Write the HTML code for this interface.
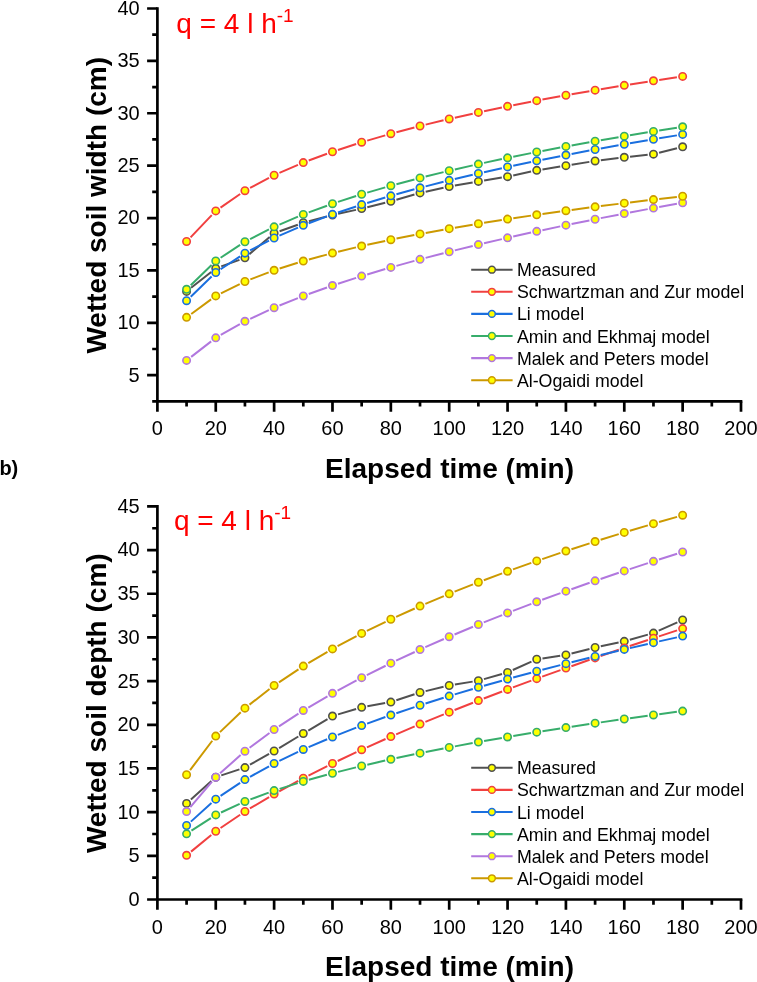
<!DOCTYPE html>
<html lang="en">
<head>
<meta charset="utf-8">
<title>Wetted soil width and depth versus elapsed time</title>
<style>
html,body{margin:0;padding:0;background:#fff;}
body{width:757px;height:982px;overflow:hidden;}
svg{display:block;font-family:'Liberation Sans', Arial, Helvetica, sans-serif;}
</style>
</head>
<body>
<svg width="757" height="982" viewBox="0 0 757 982">
<rect width="757" height="982" fill="#fff"/>
<g stroke="#000" stroke-width="2.7" fill="none">
<path d="M157.4 7.15 V411.7"/>
<path d="M157.4 401.4 H742.35"/>
<path d="M147.1 375.21 H157.4 M147.1 322.82 H157.4 M147.1 270.43 H157.4 M147.1 218.05 H157.4 M147.1 165.66 H157.4 M147.1 113.27 H157.4 M147.1 60.89 H157.4 M147.1 8.5 H157.4 M152.2 401.4 H157.4 M152.2 349.01 H157.4 M152.2 296.63 H157.4 M152.2 244.24 H157.4 M152.2 191.85 H157.4 M152.2 139.47 H157.4 M152.2 87.08 H157.4 M152.2 34.69 H157.4 M215.76 401.4 V411.7 M274.12 401.4 V411.7 M332.48 401.4 V411.7 M390.84 401.4 V411.7 M449.2 401.4 V411.7 M507.56 401.4 V411.7 M565.92 401.4 V411.7 M624.28 401.4 V411.7 M682.64 401.4 V411.7 M741 401.4 V411.7 M186.58 401.4 V406.6 M244.94 401.4 V406.6 M303.3 401.4 V406.6 M361.66 401.4 V406.6 M420.02 401.4 V406.6 M478.38 401.4 V406.6 M536.74 401.4 V406.6 M595.1 401.4 V406.6 M653.46 401.4 V406.6 M711.82 401.4 V406.6"/>
</g>
<g font-size="20" fill="#000">
<g text-anchor="end">
<text transform="translate(139.7 381.61) scale(1 1.04)">5</text>
<text transform="translate(139.7 329.22) scale(1 1.04)">10</text>
<text transform="translate(139.7 276.83) scale(1 1.04)">15</text>
<text transform="translate(139.7 224.45) scale(1 1.04)">20</text>
<text transform="translate(139.7 172.06) scale(1 1.04)">25</text>
<text transform="translate(139.7 119.67) scale(1 1.04)">30</text>
<text transform="translate(139.7 67.29) scale(1 1.04)">35</text>
<text transform="translate(139.7 14.9) scale(1 1.04)">40</text>
</g>
<g text-anchor="middle">
<text transform="translate(157.4 435.4) scale(1 1.04)">0</text>
<text transform="translate(215.76 435.4) scale(1 1.04)">20</text>
<text transform="translate(274.12 435.4) scale(1 1.04)">40</text>
<text transform="translate(332.48 435.4) scale(1 1.04)">60</text>
<text transform="translate(390.84 435.4) scale(1 1.04)">80</text>
<text transform="translate(449.2 435.4) scale(1 1.04)">100</text>
<text transform="translate(507.56 435.4) scale(1 1.04)">120</text>
<text transform="translate(565.92 435.4) scale(1 1.04)">140</text>
<text transform="translate(624.28 435.4) scale(1 1.04)">160</text>
<text transform="translate(682.64 435.4) scale(1 1.04)">180</text>
<text transform="translate(741 435.4) scale(1 1.04)">200</text>
</g>
</g>
<g font-size="28" font-weight="bold" text-anchor="middle" fill="#000">
<text x="449.5" y="477.7">Elapsed time (min)</text>
<text transform="translate(105.7 205.25) rotate(-90)">Wetted soil width (cm)</text>
</g>
<text x="176.3" y="33.1" font-size="28" fill="#FF0000">q = 4 l h<tspan font-size="19" dy="-11.2">-1</tspan></text>
<g stroke="#515151">
<path d="M191.13 287.79L211.21 271.93M221.22 266.38L239.48 259.82M249.37 254.12L269.69 236.98M279.58 231.28L297.84 224.72M308.91 221.29L326.87 216.58M338.14 213.85L356 209.88M367.29 207.2L385.21 202.7M396.41 199.68L414.45 194.5M425.69 191.68L443.53 187.84M454.91 185.59L472.67 182.4M484.11 180.45L501.83 177.59M513.23 175.44L531.07 171.6M542.47 169.45L560.19 166.59M571.65 164.73L589.37 161.87M600.85 160.22L618.53 158M630.05 156.66L647.69 154.76M659.09 152.72L677.01 148.21" stroke-width="2" fill="none"/>
<g fill="#FFFF00" stroke-width="1.6">
<circle cx="186.58" cy="291.39" r="3.7"/>
<circle cx="215.76" cy="268.34" r="3.7"/>
<circle cx="244.94" cy="257.86" r="3.7"/>
<circle cx="274.12" cy="233.24" r="3.7"/>
<circle cx="303.3" cy="222.76" r="3.7"/>
<circle cx="332.48" cy="215.11" r="3.7"/>
<circle cx="361.66" cy="208.62" r="3.7"/>
<circle cx="390.84" cy="201.28" r="3.7"/>
<circle cx="420.02" cy="192.9" r="3.7"/>
<circle cx="449.2" cy="186.61" r="3.7"/>
<circle cx="478.38" cy="181.38" r="3.7"/>
<circle cx="507.56" cy="176.66" r="3.7"/>
<circle cx="536.74" cy="170.37" r="3.7"/>
<circle cx="565.92" cy="165.66" r="3.7"/>
<circle cx="595.1" cy="160.95" r="3.7"/>
<circle cx="624.28" cy="157.28" r="3.7"/>
<circle cx="653.46" cy="154.13" r="3.7"/>
<circle cx="682.64" cy="146.8" r="3.7"/>
</g></g>
<g stroke="#F14040">
<path d="M190.58 237.32L211.76 215.1M220.53 207.6L240.17 194M250.07 187.99L268.99 177.96M279.44 172.93L297.98 164.87M308.74 160.54L327.04 153.74M337.99 149.93L356.15 144.02M367.23 140.6L385.27 135.34M396.45 132.24L414.41 127.5M425.66 124.65L443.56 120.32M454.86 117.68L472.72 113.69M484.06 111.23L501.88 107.52M513.25 105.22L531.05 101.74M542.44 99.58L560.22 96.31M571.63 94.27L589.39 91.18M600.82 89.24L618.56 86.31M630.01 84.47L647.73 81.68M659.2 79.92L676.9 77.25" stroke-width="2" fill="none"/>
<g fill="#FFFF00" stroke-width="1.6">
<circle cx="186.58" cy="241.52" r="3.7"/>
<circle cx="215.76" cy="210.9" r="3.7"/>
<circle cx="244.94" cy="190.7" r="3.7"/>
<circle cx="274.12" cy="175.24" r="3.7"/>
<circle cx="303.3" cy="162.56" r="3.7"/>
<circle cx="332.48" cy="151.73" r="3.7"/>
<circle cx="361.66" cy="142.22" r="3.7"/>
<circle cx="390.84" cy="133.72" r="3.7"/>
<circle cx="420.02" cy="126.02" r="3.7"/>
<circle cx="449.2" cy="118.95" r="3.7"/>
<circle cx="478.38" cy="112.42" r="3.7"/>
<circle cx="507.56" cy="106.33" r="3.7"/>
<circle cx="536.74" cy="100.63" r="3.7"/>
<circle cx="565.92" cy="95.26" r="3.7"/>
<circle cx="595.1" cy="90.19" r="3.7"/>
<circle cx="624.28" cy="85.37" r="3.7"/>
<circle cx="653.46" cy="80.78" r="3.7"/>
<circle cx="682.64" cy="76.39" r="3.7"/>
</g></g>
<g stroke="#1A6FDF">
<path d="M190.75 296.68L211.59 276.52M220.59 269.29L240.11 256.36M250.09 250.48L268.97 240.67M279.44 235.69L297.98 227.64M308.73 223.29L327.05 216.4M337.98 212.52L356.16 206.46M367.21 202.95L385.29 197.5M396.43 194.28L414.43 189.32M425.64 186.35L443.58 181.78M454.84 179L472.74 174.76M484.04 172.16L501.9 168.19M513.24 165.74L531.06 162.01M542.43 159.69L560.23 156.15M571.62 153.95L589.4 150.6M600.81 148.5L618.57 145.3M630 143.29L647.74 140.24M659.18 138.31L676.92 135.38" stroke-width="2" fill="none"/>
<g fill="#FFFF00" stroke-width="1.6">
<circle cx="186.58" cy="300.71" r="3.7"/>
<circle cx="215.76" cy="272.49" r="3.7"/>
<circle cx="244.94" cy="253.16" r="3.7"/>
<circle cx="274.12" cy="237.99" r="3.7"/>
<circle cx="303.3" cy="225.33" r="3.7"/>
<circle cx="332.48" cy="214.36" r="3.7"/>
<circle cx="361.66" cy="204.62" r="3.7"/>
<circle cx="390.84" cy="195.82" r="3.7"/>
<circle cx="420.02" cy="187.78" r="3.7"/>
<circle cx="449.2" cy="180.34" r="3.7"/>
<circle cx="478.38" cy="173.42" r="3.7"/>
<circle cx="507.56" cy="166.93" r="3.7"/>
<circle cx="536.74" cy="160.82" r="3.7"/>
<circle cx="565.92" cy="155.03" r="3.7"/>
<circle cx="595.1" cy="149.52" r="3.7"/>
<circle cx="624.28" cy="144.27" r="3.7"/>
<circle cx="653.46" cy="139.25" r="3.7"/>
<circle cx="682.64" cy="134.44" r="3.7"/>
</g></g>
<g stroke="#37AD6B">
<path d="M190.74 285.25L211.6 265M220.61 257.78L240.09 244.96M250.1 239.13L268.96 229.48M279.46 224.56L297.96 216.69M308.74 212.42L327.04 205.71M338 201.92L356.14 196.03M367.23 192.61L385.27 187.34M396.44 184.22L414.42 179.42M425.65 176.54L443.57 172.14M454.85 169.46L472.73 165.38M484.05 162.88L501.89 159.07M513.25 156.71L531.05 153.13M542.44 150.9L560.22 147.52M571.63 145.41L589.39 142.21M600.82 140.2L618.56 137.15M630 135.23L647.74 132.32M659.19 130.48L676.91 127.69" stroke-width="2" fill="none"/>
<g fill="#FFFF00" stroke-width="1.6">
<circle cx="186.58" cy="289.29" r="3.7"/>
<circle cx="215.76" cy="260.96" r="3.7"/>
<circle cx="244.94" cy="241.77" r="3.7"/>
<circle cx="274.12" cy="226.83" r="3.7"/>
<circle cx="303.3" cy="214.42" r="3.7"/>
<circle cx="332.48" cy="203.71" r="3.7"/>
<circle cx="361.66" cy="194.24" r="3.7"/>
<circle cx="390.84" cy="185.71" r="3.7"/>
<circle cx="420.02" cy="177.93" r="3.7"/>
<circle cx="449.2" cy="170.76" r="3.7"/>
<circle cx="478.38" cy="164.09" r="3.7"/>
<circle cx="507.56" cy="157.85" r="3.7"/>
<circle cx="536.74" cy="151.99" r="3.7"/>
<circle cx="565.92" cy="146.44" r="3.7"/>
<circle cx="595.1" cy="141.18" r="3.7"/>
<circle cx="624.28" cy="136.16" r="3.7"/>
<circle cx="653.46" cy="131.38" r="3.7"/>
<circle cx="682.64" cy="126.79" r="3.7"/>
</g></g>
<g stroke="#B177DE">
<path d="M191.17 356.88L211.17 341.41M220.8 334.99L239.9 324.15M250.2 318.84L268.86 310.15M279.5 305.54L297.92 298.14M308.76 294.02L327.02 287.5M338 283.76L356.14 277.88M367.22 274.44L385.28 269.06M396.43 265.85L414.43 260.86M425.63 257.86L443.59 253.19M454.83 250.35L472.75 245.97M484.03 243.27L501.91 239.12M513.22 236.55L531.08 232.6M542.41 230.15L560.25 226.37M571.6 224.02L589.42 220.4M600.79 218.14L618.59 214.66M629.98 212.48L647.76 209.13M659.17 207.02L676.93 203.79" stroke-width="2" fill="none"/>
<g fill="#FFFF00" stroke-width="1.6">
<circle cx="186.58" cy="360.43" r="3.7"/>
<circle cx="215.76" cy="337.86" r="3.7"/>
<circle cx="244.94" cy="321.28" r="3.7"/>
<circle cx="274.12" cy="307.7" r="3.7"/>
<circle cx="303.3" cy="295.98" r="3.7"/>
<circle cx="332.48" cy="285.55" r="3.7"/>
<circle cx="361.66" cy="276.1" r="3.7"/>
<circle cx="390.84" cy="267.4" r="3.7"/>
<circle cx="420.02" cy="259.31" r="3.7"/>
<circle cx="449.2" cy="251.74" r="3.7"/>
<circle cx="478.38" cy="244.59" r="3.7"/>
<circle cx="507.56" cy="237.81" r="3.7"/>
<circle cx="536.74" cy="231.35" r="3.7"/>
<circle cx="565.92" cy="225.17" r="3.7"/>
<circle cx="595.1" cy="219.25" r="3.7"/>
<circle cx="624.28" cy="213.55" r="3.7"/>
<circle cx="653.46" cy="208.06" r="3.7"/>
<circle cx="682.64" cy="202.75" r="3.7"/>
</g></g>
<g stroke="#CC9900">
<path d="M191.25 313.94L211.09 299.36M220.96 293.35L239.74 284.06M250.36 279.42L268.7 272.38M279.65 268.55L297.77 262.79M308.89 259.51L326.89 254.59M338.12 251.7L356.02 247.39M367.33 244.8L385.17 240.93M396.53 238.58L414.33 235.06M425.73 232.9L443.49 229.67M454.92 227.67L472.66 224.67M484.11 222.8L501.83 220.01M513.3 218.25L531 215.63M542.48 213.98L560.18 211.5M571.67 209.93L589.35 207.59M600.85 206.1L618.53 203.87M630.04 202.44L647.7 200.31M659.22 198.96L676.88 196.92" stroke-width="2" fill="none"/>
<g fill="#FFFF00" stroke-width="1.6">
<circle cx="186.58" cy="317.37" r="3.7"/>
<circle cx="215.76" cy="295.92" r="3.7"/>
<circle cx="244.94" cy="281.49" r="3.7"/>
<circle cx="274.12" cy="270.3" r="3.7"/>
<circle cx="303.3" cy="261.04" r="3.7"/>
<circle cx="332.48" cy="253.06" r="3.7"/>
<circle cx="361.66" cy="246.03" r="3.7"/>
<circle cx="390.84" cy="239.7" r="3.7"/>
<circle cx="420.02" cy="233.94" r="3.7"/>
<circle cx="449.2" cy="228.63" r="3.7"/>
<circle cx="478.38" cy="223.71" r="3.7"/>
<circle cx="507.56" cy="219.11" r="3.7"/>
<circle cx="536.74" cy="214.78" r="3.7"/>
<circle cx="565.92" cy="210.7" r="3.7"/>
<circle cx="595.1" cy="206.82" r="3.7"/>
<circle cx="624.28" cy="203.14" r="3.7"/>
<circle cx="653.46" cy="199.62" r="3.7"/>
<circle cx="682.64" cy="196.25" r="3.7"/>
</g></g>
<g font-size="17.8" fill="#000">
<path d="M471.2 269.7H512.6" stroke="#515151" stroke-width="2.1" fill="none"/>
<circle cx="491.9" cy="269.7" r="3.4" fill="#FFFF00" stroke="#515151" stroke-width="1.5"/>
<text x="516.9" y="276.2">Measured</text>
<path d="M471.2 291.8H512.6" stroke="#F14040" stroke-width="2.1" fill="none"/>
<circle cx="491.9" cy="291.8" r="3.4" fill="#FFFF00" stroke="#F14040" stroke-width="1.5"/>
<text x="516.9" y="298.3">Schwartzman and Zur model</text>
<path d="M471.2 313.9H512.6" stroke="#1A6FDF" stroke-width="2.1" fill="none"/>
<circle cx="491.9" cy="313.9" r="3.4" fill="#FFFF00" stroke="#1A6FDF" stroke-width="1.5"/>
<text x="516.9" y="320.4">Li model</text>
<path d="M471.2 336H512.6" stroke="#37AD6B" stroke-width="2.1" fill="none"/>
<circle cx="491.9" cy="336" r="3.4" fill="#FFFF00" stroke="#37AD6B" stroke-width="1.5"/>
<text x="516.9" y="342.5">Amin and Ekhmaj model</text>
<path d="M471.2 358.1H512.6" stroke="#B177DE" stroke-width="2.1" fill="none"/>
<circle cx="491.9" cy="358.1" r="3.4" fill="#FFFF00" stroke="#B177DE" stroke-width="1.5"/>
<text x="516.9" y="364.6">Malek and Peters model</text>
<path d="M471.2 380.2H512.6" stroke="#CC9900" stroke-width="2.1" fill="none"/>
<circle cx="491.9" cy="380.2" r="3.4" fill="#FFFF00" stroke="#CC9900" stroke-width="1.5"/>
<text x="516.9" y="386.7">Al-Ogaidi model</text>
</g>
<text x="-0.6" y="474.8" font-size="20" font-weight="bold" fill="#000">b)</text>
<g stroke="#000" stroke-width="2.7" fill="none">
<path d="M157.4 505.05 V909.8"/>
<path d="M157.4 899.5 H742.35"/>
<path d="M147.1 899.5 H157.4 M147.1 855.82 H157.4 M147.1 812.14 H157.4 M147.1 768.47 H157.4 M147.1 724.79 H157.4 M147.1 681.11 H157.4 M147.1 637.43 H157.4 M147.1 593.76 H157.4 M147.1 550.08 H157.4 M147.1 506.4 H157.4 M152.2 877.66 H157.4 M152.2 833.98 H157.4 M152.2 790.31 H157.4 M152.2 746.63 H157.4 M152.2 702.95 H157.4 M152.2 659.27 H157.4 M152.2 615.59 H157.4 M152.2 571.92 H157.4 M152.2 528.24 H157.4 M215.76 899.5 V909.8 M274.12 899.5 V909.8 M332.48 899.5 V909.8 M390.84 899.5 V909.8 M449.2 899.5 V909.8 M507.56 899.5 V909.8 M565.92 899.5 V909.8 M624.28 899.5 V909.8 M682.64 899.5 V909.8 M741 899.5 V909.8 M186.58 899.5 V904.7 M244.94 899.5 V904.7 M303.3 899.5 V904.7 M361.66 899.5 V904.7 M420.02 899.5 V904.7 M478.38 899.5 V904.7 M536.74 899.5 V904.7 M595.1 899.5 V904.7 M653.46 899.5 V904.7 M711.82 899.5 V904.7"/>
</g>
<g font-size="20" fill="#000">
<g text-anchor="end">
<text transform="translate(139.7 905.9) scale(1 1.04)">0</text>
<text transform="translate(139.7 862.22) scale(1 1.04)">5</text>
<text transform="translate(139.7 818.54) scale(1 1.04)">10</text>
<text transform="translate(139.7 774.87) scale(1 1.04)">15</text>
<text transform="translate(139.7 731.19) scale(1 1.04)">20</text>
<text transform="translate(139.7 687.51) scale(1 1.04)">25</text>
<text transform="translate(139.7 643.83) scale(1 1.04)">30</text>
<text transform="translate(139.7 600.16) scale(1 1.04)">35</text>
<text transform="translate(139.7 556.48) scale(1 1.04)">40</text>
<text transform="translate(139.7 512.8) scale(1 1.04)">45</text>
</g>
<g text-anchor="middle">
<text transform="translate(157.4 933.5) scale(1 1.04)">0</text>
<text transform="translate(215.76 933.5) scale(1 1.04)">20</text>
<text transform="translate(274.12 933.5) scale(1 1.04)">40</text>
<text transform="translate(332.48 933.5) scale(1 1.04)">60</text>
<text transform="translate(390.84 933.5) scale(1 1.04)">80</text>
<text transform="translate(449.2 933.5) scale(1 1.04)">100</text>
<text transform="translate(507.56 933.5) scale(1 1.04)">120</text>
<text transform="translate(565.92 933.5) scale(1 1.04)">140</text>
<text transform="translate(624.28 933.5) scale(1 1.04)">160</text>
<text transform="translate(682.64 933.5) scale(1 1.04)">180</text>
<text transform="translate(741 933.5) scale(1 1.04)">200</text>
</g>
</g>
<g font-size="28" font-weight="bold" text-anchor="middle" fill="#000">
<text x="449.5" y="975.8">Elapsed time (min)</text>
<text transform="translate(105.7 703.25) rotate(-90)">Wetted soil depth (cm)</text>
</g>
<text x="173.9" y="529.8" font-size="28" fill="#FF0000">q = 4 l h<tspan font-size="19" dy="-11.2">-1</tspan></text>
<g stroke="#515151">
<path d="M190.9 799.53L211.44 781.08M221.27 775.39L239.43 769.41M249.98 764.73L269.08 753.86M279.1 748.02L298.32 736.5M308.28 730.54L327.5 719.03M338.04 714.39L356.1 708.98M367.37 706.29L385.13 703.1M396.35 700.26L414.51 694.28M425.66 691.12L443.56 686.83M454.92 684.54L472.66 681.62M483.96 679.09L501.98 673.96M512.85 670L531.45 661.65M542.48 658.41L560.18 655.76M571.54 653.47L589.48 648.91M600.78 646.29L618.6 642.55M629.86 639.78L647.88 634.65M658.75 630.69L677.35 622.34" stroke-width="2" fill="none"/>
<g fill="#FFFF00" stroke-width="1.6">
<circle cx="186.58" cy="803.41" r="3.7"/>
<circle cx="215.76" cy="777.2" r="3.7"/>
<circle cx="244.94" cy="767.59" r="3.7"/>
<circle cx="274.12" cy="751" r="3.7"/>
<circle cx="303.3" cy="733.52" r="3.7"/>
<circle cx="332.48" cy="716.05" r="3.7"/>
<circle cx="361.66" cy="707.32" r="3.7"/>
<circle cx="390.84" cy="702.08" r="3.7"/>
<circle cx="420.02" cy="692.47" r="3.7"/>
<circle cx="449.2" cy="685.48" r="3.7"/>
<circle cx="478.38" cy="680.67" r="3.7"/>
<circle cx="507.56" cy="672.38" r="3.7"/>
<circle cx="536.74" cy="659.27" r="3.7"/>
<circle cx="565.92" cy="654.9" r="3.7"/>
<circle cx="595.1" cy="647.48" r="3.7"/>
<circle cx="624.28" cy="641.36" r="3.7"/>
<circle cx="653.46" cy="633.07" r="3.7"/>
<circle cx="682.64" cy="619.96" r="3.7"/>
</g></g>
<g stroke="#F14040">
<path d="M191.05 851.61L211.29 834.92M220.56 827.97L240.14 814.71M249.92 808.48L269.14 797.02M279.22 791.28L298.2 780.97M308.48 775.59L327.3 766.11M337.72 761.02L356.42 752.18M366.95 747.32L385.55 738.98M396.17 734.33L414.69 726.4M425.39 721.92L443.83 714.34M454.59 710.01L472.99 702.73M483.8 698.53L502.14 691.51M513 687.43L531.3 680.64M542.2 676.66L560.46 670.08M571.39 666.2L589.63 659.8M600.59 656.01L618.79 649.78M629.78 646.06L647.96 639.99M658.97 636.35L677.13 630.41" stroke-width="2" fill="none"/>
<g fill="#FFFF00" stroke-width="1.6">
<circle cx="186.58" cy="855.3" r="3.7"/>
<circle cx="215.76" cy="831.23" r="3.7"/>
<circle cx="244.94" cy="811.45" r="3.7"/>
<circle cx="274.12" cy="794.04" r="3.7"/>
<circle cx="303.3" cy="778.2" r="3.7"/>
<circle cx="332.48" cy="763.5" r="3.7"/>
<circle cx="361.66" cy="749.7" r="3.7"/>
<circle cx="390.84" cy="736.61" r="3.7"/>
<circle cx="420.02" cy="724.12" r="3.7"/>
<circle cx="449.2" cy="712.14" r="3.7"/>
<circle cx="478.38" cy="700.6" r="3.7"/>
<circle cx="507.56" cy="689.44" r="3.7"/>
<circle cx="536.74" cy="678.63" r="3.7"/>
<circle cx="565.92" cy="668.12" r="3.7"/>
<circle cx="595.1" cy="657.88" r="3.7"/>
<circle cx="624.28" cy="647.9" r="3.7"/>
<circle cx="653.46" cy="638.15" r="3.7"/>
<circle cx="682.64" cy="628.61" r="3.7"/>
</g></g>
<g stroke="#1A6FDF">
<path d="M190.89 821.62L211.45 803.06M220.58 795.95L240.12 782.85M250.01 776.81L269.05 766.28M279.35 760.96L298.07 751.97M308.63 747.17L327.15 739.23M337.88 734.84L356.26 727.67M367.12 723.59L385.38 717.02M396.34 713.21L414.52 707.1M425.55 703.51L443.67 697.8M454.76 694.4L472.82 689.01M483.96 685.78L501.98 680.67M513.16 677.58L531.14 672.72M542.35 669.75L560.31 665.1M571.55 662.25L589.47 657.79M600.74 655.04L618.64 650.75M629.93 648.1L647.81 643.96M659.12 641.39L676.98 637.39" stroke-width="2" fill="none"/>
<g fill="#FFFF00" stroke-width="1.6">
<circle cx="186.58" cy="825.51" r="3.7"/>
<circle cx="215.76" cy="799.18" r="3.7"/>
<circle cx="244.94" cy="779.62" r="3.7"/>
<circle cx="274.12" cy="763.47" r="3.7"/>
<circle cx="303.3" cy="749.46" r="3.7"/>
<circle cx="332.48" cy="736.95" r="3.7"/>
<circle cx="361.66" cy="725.56" r="3.7"/>
<circle cx="390.84" cy="715.05" r="3.7"/>
<circle cx="420.02" cy="705.26" r="3.7"/>
<circle cx="449.2" cy="696.06" r="3.7"/>
<circle cx="478.38" cy="687.36" r="3.7"/>
<circle cx="507.56" cy="679.09" r="3.7"/>
<circle cx="536.74" cy="671.21" r="3.7"/>
<circle cx="565.92" cy="663.65" r="3.7"/>
<circle cx="595.1" cy="656.39" r="3.7"/>
<circle cx="624.28" cy="649.4" r="3.7"/>
<circle cx="653.46" cy="642.65" r="3.7"/>
<circle cx="682.64" cy="636.12" r="3.7"/>
</g></g>
<g stroke="#37AD6B">
<path d="M191.45 830.66L210.89 818.07M221.03 812.49L239.67 803.88M250.38 799.43L268.68 792.63M279.65 788.86L297.77 783.13M308.89 779.82L326.89 774.81M338.11 771.85L356.03 767.37M367.31 764.67L385.19 760.59M396.52 758.1L414.34 754.35M425.71 752.03L443.51 748.54M454.9 746.37L472.68 743.09M484.09 741.05L501.85 737.96M513.28 736.02L531.02 733.1M542.47 731.25L560.19 728.47M571.66 726.71L589.36 724.05M600.84 722.37L618.54 719.82M630.03 718.2L647.71 715.75M659.21 714.19L676.89 711.84" stroke-width="2" fill="none"/>
<g fill="#FFFF00" stroke-width="1.6">
<circle cx="186.58" cy="833.81" r="3.7"/>
<circle cx="215.76" cy="814.92" r="3.7"/>
<circle cx="244.94" cy="801.45" r="3.7"/>
<circle cx="274.12" cy="790.61" r="3.7"/>
<circle cx="303.3" cy="781.38" r="3.7"/>
<circle cx="332.48" cy="773.26" r="3.7"/>
<circle cx="361.66" cy="765.96" r="3.7"/>
<circle cx="390.84" cy="759.3" r="3.7"/>
<circle cx="420.02" cy="753.15" r="3.7"/>
<circle cx="449.2" cy="747.42" r="3.7"/>
<circle cx="478.38" cy="742.04" r="3.7"/>
<circle cx="507.56" cy="736.97" r="3.7"/>
<circle cx="536.74" cy="732.15" r="3.7"/>
<circle cx="565.92" cy="727.57" r="3.7"/>
<circle cx="595.1" cy="723.19" r="3.7"/>
<circle cx="624.28" cy="718.99" r="3.7"/>
<circle cx="653.46" cy="714.96" r="3.7"/>
<circle cx="682.64" cy="711.07" r="3.7"/>
</g></g>
<g stroke="#B177DE">
<path d="M190.34 807.11L212 781.63M220.09 773.35L240.61 755.07M249.59 747.75L269.47 732.95M278.98 726.32L298.44 713.63M308.3 707.53L327.48 696.29M337.59 690.61L356.55 680.43M366.85 675.1L385.65 665.73M396.1 660.7L414.76 651.99M425.33 647.2L443.89 639.04M454.55 634.47L473.03 626.76M483.77 622.38L502.17 615.06M512.98 610.85L531.32 603.86M542.19 599.81L560.47 593.12M571.39 589.2L589.63 582.77M600.59 578.98L618.79 572.79M629.79 569.11L647.95 563.13M658.99 559.55L677.11 553.76" stroke-width="2" fill="none"/>
<g fill="#FFFF00" stroke-width="1.6">
<circle cx="186.58" cy="811.53" r="3.7"/>
<circle cx="215.76" cy="777.21" r="3.7"/>
<circle cx="244.94" cy="751.21" r="3.7"/>
<circle cx="274.12" cy="729.49" r="3.7"/>
<circle cx="303.3" cy="710.46" r="3.7"/>
<circle cx="332.48" cy="693.35" r="3.7"/>
<circle cx="361.66" cy="677.68" r="3.7"/>
<circle cx="390.84" cy="663.15" r="3.7"/>
<circle cx="420.02" cy="649.54" r="3.7"/>
<circle cx="449.2" cy="636.7" r="3.7"/>
<circle cx="478.38" cy="624.52" r="3.7"/>
<circle cx="507.56" cy="612.91" r="3.7"/>
<circle cx="536.74" cy="601.8" r="3.7"/>
<circle cx="565.92" cy="591.13" r="3.7"/>
<circle cx="595.1" cy="580.85" r="3.7"/>
<circle cx="624.28" cy="570.92" r="3.7"/>
<circle cx="653.46" cy="561.31" r="3.7"/>
<circle cx="682.64" cy="552" r="3.7"/>
</g></g>
<g stroke="#CC9900">
<path d="M190.08 770.13L212.26 740.75M219.95 732.11L240.75 712.2M249.52 704.63L269.54 689.08M278.95 682.31L298.47 669.31M308.3 663.16L327.48 651.88M337.6 646.21L356.54 636.16M366.88 630.9L385.62 621.78M396.13 616.86L414.73 608.48M425.37 603.85L443.85 596.06M454.59 591.68L472.99 584.39M483.81 580.22L502.13 573.36M513.02 569.38L531.28 562.89M542.23 559.08L560.43 552.9M571.44 549.24L589.58 543.34M600.64 539.82L618.74 534.17M629.83 530.77L647.91 525.35M659.03 522.06L677.07 516.84" stroke-width="2" fill="none"/>
<g fill="#FFFF00" stroke-width="1.6">
<circle cx="186.58" cy="774.76" r="3.7"/>
<circle cx="215.76" cy="736.12" r="3.7"/>
<circle cx="244.94" cy="708.19" r="3.7"/>
<circle cx="274.12" cy="685.52" r="3.7"/>
<circle cx="303.3" cy="666.1" r="3.7"/>
<circle cx="332.48" cy="648.93" r="3.7"/>
<circle cx="361.66" cy="633.44" r="3.7"/>
<circle cx="390.84" cy="619.24" r="3.7"/>
<circle cx="420.02" cy="606.1" r="3.7"/>
<circle cx="449.2" cy="593.81" r="3.7"/>
<circle cx="478.38" cy="582.26" r="3.7"/>
<circle cx="507.56" cy="571.33" r="3.7"/>
<circle cx="536.74" cy="560.94" r="3.7"/>
<circle cx="565.92" cy="551.04" r="3.7"/>
<circle cx="595.1" cy="541.55" r="3.7"/>
<circle cx="624.28" cy="532.44" r="3.7"/>
<circle cx="653.46" cy="523.68" r="3.7"/>
<circle cx="682.64" cy="515.22" r="3.7"/>
</g></g>
<g font-size="17.8" fill="#000">
<path d="M471.2 767.8H512.6" stroke="#515151" stroke-width="2.1" fill="none"/>
<circle cx="491.9" cy="767.8" r="3.4" fill="#FFFF00" stroke="#515151" stroke-width="1.5"/>
<text x="516.9" y="774.3">Measured</text>
<path d="M471.2 789.9H512.6" stroke="#F14040" stroke-width="2.1" fill="none"/>
<circle cx="491.9" cy="789.9" r="3.4" fill="#FFFF00" stroke="#F14040" stroke-width="1.5"/>
<text x="516.9" y="796.4">Schwartzman and Zur model</text>
<path d="M471.2 812H512.6" stroke="#1A6FDF" stroke-width="2.1" fill="none"/>
<circle cx="491.9" cy="812" r="3.4" fill="#FFFF00" stroke="#1A6FDF" stroke-width="1.5"/>
<text x="516.9" y="818.5">Li model</text>
<path d="M471.2 834.1H512.6" stroke="#37AD6B" stroke-width="2.1" fill="none"/>
<circle cx="491.9" cy="834.1" r="3.4" fill="#FFFF00" stroke="#37AD6B" stroke-width="1.5"/>
<text x="516.9" y="840.6">Amin and Ekhmaj model</text>
<path d="M471.2 856.2H512.6" stroke="#B177DE" stroke-width="2.1" fill="none"/>
<circle cx="491.9" cy="856.2" r="3.4" fill="#FFFF00" stroke="#B177DE" stroke-width="1.5"/>
<text x="516.9" y="862.7">Malek and Peters model</text>
<path d="M471.2 878.3H512.6" stroke="#CC9900" stroke-width="2.1" fill="none"/>
<circle cx="491.9" cy="878.3" r="3.4" fill="#FFFF00" stroke="#CC9900" stroke-width="1.5"/>
<text x="516.9" y="884.8">Al-Ogaidi model</text>
</g>
</svg>
</body>
</html>
